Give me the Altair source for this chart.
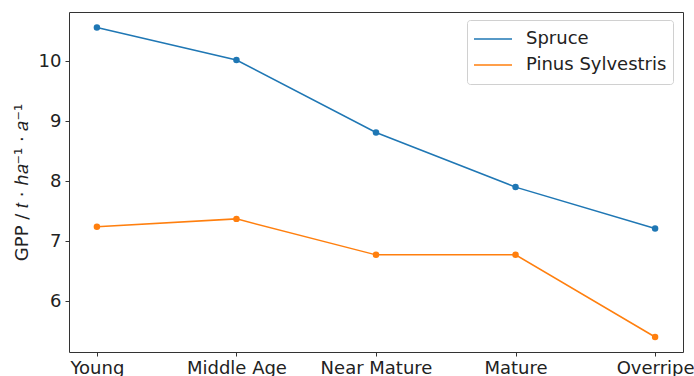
import altair as alt
import pandas as pd

# Growth stages on the x axis
stages = ["Young", "Middle Age", "Near Mature", "Mature", "Overripe"]

# Gross primary productivity per stage (t·ha⁻¹·a⁻¹)
spruce = [10.56, 10.02, 8.81, 7.90, 7.21]
pinus = [7.24, 7.37, 6.77, 6.77, 5.40]

species = ["Spruce", "Pinus Sylvestris"]
colors = ["#1f77b4", "#ff7f0e"]

rows = []
for name, vals in zip(species, [spruce, pinus]):
    for st, v in zip(stages, vals):
        rows.append({"stage": st, "gpp": v, "species": name})
df = pd.DataFrame(rows)

FONT = "DejaVu Sans"

base = alt.Chart(df).encode(
    x=alt.X(
        "stage:N",
        sort=stages,
        scale=alt.Scale(type="point", padding=0.2),
        axis=alt.Axis(title=None, labelAngle=0, labelPadding=3),
    ),
    y=alt.Y(
        "gpp:Q",
        scale=alt.Scale(domain=[5.15, 10.82], nice=False, zero=False),
        axis=alt.Axis(
            title="GPP / 𝑡 · ℎ𝑎⁻¹ · 𝑎⁻¹",
            values=[6, 7, 8, 9, 10],
            titlePadding=7,
            labelPadding=4,
        ),
    ),
    color=alt.Color(
        "species:N",
        sort=species,
        scale=alt.Scale(domain=species, range=colors),
        legend=alt.Legend(
            title=None,
            orient="none",
            legendX=398,
            legendY=8,
            symbolType="stroke",
            symbolSize=1444,
            symbolStrokeWidth=1.5,
            clipHeight=26,
            rowPadding=0,
            labelFontSize=18,
            labelFont=FONT,
            labelColor="#222",
            labelOffset=13,
            strokeColor="#d0d0d0",
            cornerRadius=3,
            padding=6,
            fillColor="white",
        ),
    ),
)

lines = base.mark_line(strokeWidth=1.5)
points = base.mark_point(filled=True, size=42, opacity=1)

chart = (
    alt.layer(lines, points)
    .properties(
        width=614,
        height=340,
        autosize=alt.AutoSizeParams(type="none"),
        padding={"left": 69, "top": 12, "right": 11, "bottom": 24},
    )
    .configure_view(stroke="#333", strokeWidth=1)
    .configure_axis(
        domain=False,
        grid=False,
        tickColor="#333",
        tickSize=4,
        labelFont=FONT,
        labelFontSize=18,
        labelColor="#222",
        titleFont=FONT,
        titleFontSize=18,
        titleFontWeight="normal",
        titleColor="#222",
    )
)

chart.save("out.html", embed_options={"renderer": "svg", "actions": False})
